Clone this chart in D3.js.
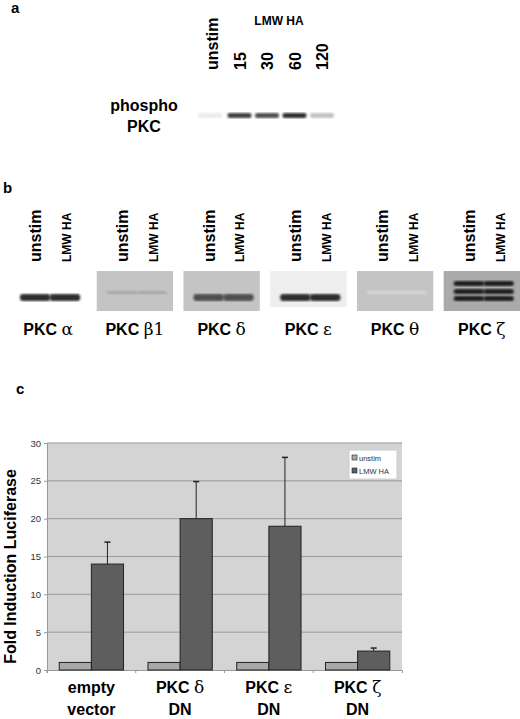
<!DOCTYPE html>
<html><head><meta charset="utf-8">
<script src="https://cdn.jsdelivr.net/npm/d3@7"></script>
<style>body{margin:0;background:#fff}text{font-family:"Liberation Sans",Arial,sans-serif}</style>
</head><body>
<script>
// panel c data
const groups = ["empty|vector", "PKC δ|DN", "PKC ε|DN", "PKC ζ|DN"];
const unstim = [1, 1, 1, 1];
const lmw = [14, 20, 19, 2.5];
const lmwErr = [2.9, 4.9, 9.1, 0.4];
const yTicks = [0, 5, 10, 15, 20, 25, 30];
// panel a
const timeLanes = ["unstim", "15", "30", "60", "120"];
const phosphoBand = [0.15, 0.8, 0.75, 0.85, 0.35];
// panel b
const isoforms = ["α", "β1", "δ", "ε", "θ", "ζ"];
const isoBand = [0.85, 0.45, 0.75, 0.85, 0.25, 0.9];

const svg = d3.select("body").append("svg").attr("width", 520).attr("height", 719);
const defs = svg.append("defs");
defs.append("filter").attr("id", "blur").append("feGaussianBlur").attr("stdDeviation", 1.3);

const greek = (sel, pre, g, size) => {
  sel.append("tspan").text(pre);
  sel.append("tspan").attr("font-family", "DejaVu Serif, Liberation Serif, serif").attr("font-weight", "normal").attr("font-size", size + 1).text(g);
};

// panel letters
[["a", 11, 13], ["b", 3, 193], ["c", 16, 394]].forEach(([t, x, y]) =>
  svg.append("text").attr("x", x).attr("y", y).attr("font-weight", "bold").attr("font-size", 15).text(t));

// ---- panel a
const xa = d3.scalePoint().domain(timeLanes).range([212, 322]);
svg.append("text").attr("x", 279).attr("y", 25).attr("text-anchor", "middle")
  .attr("font-weight", "bold").attr("font-size", 12).text("LMW HA");
timeLanes.forEach(l => {
  svg.append("text").attr("transform", `translate(${xa(l) + 6},70) rotate(-90)`)
    .attr("font-weight", "bold").attr("font-size", 16).text(l);
});
svg.append("text").attr("x", 144).attr("y", 111).attr("text-anchor", "middle").attr("font-weight", "bold").attr("font-size", 16).text("phospho");
svg.append("text").attr("x", 144).attr("y", 132).attr("text-anchor", "middle").attr("font-weight", "bold").attr("font-size", 16).text("PKC");
svg.append("g").attr("filter", "url(#blur)").selectAll("rect").data(timeLanes).join("rect")
  .attr("x", d => xa(d) - 12 + (d === "unstim" ? -2 : 0)).attr("y", 113).attr("width", 24).attr("height", 5).attr("rx", 2)
  .attr("fill", (d, i) => d3.interpolateGreys(phosphoBand[i]));

// ---- panel b
const xb = d3.scaleBand().domain(isoforms).range([10, 520]).paddingInner(0.12);
isoforms.forEach((iso, i) => {
  const x0 = xb(iso), w = xb.bandwidth();
  const g = svg.append("g");
  if (iso !== "α") g.append("rect").attr("x", x0).attr("y", 271).attr("width", w).attr("height", i === 3 ? 36 : 40)
    .attr("fill", i === 3 ? "#eee" : (i === 5 ? "#aaa" : "#c4c4c4"));
  [0, 1].forEach(j => {
    const cx = x0 + w * (j === 0 ? 0.33 : 0.72);
    g.append("text").attr("transform", `translate(${cx + 6},262) rotate(-90)`)
      .attr("font-weight", "bold").attr("font-size", j === 0 ? 16 : 12).text(j === 0 ? "unstim" : "LMW HA");
    const thin = iso === "β1" || iso === "θ";
    const bands = iso === "ζ" ? [284, 292, 299] : [thin ? 294 : 297];
    bands.forEach(by => g.append("rect").attr("filter", "url(#blur)")
      .attr("x", cx - w * 0.2).attr("y", by - 3).attr("width", w * 0.4).attr("height", thin ? 3 : (iso === "ζ" ? 5 : 7)).attr("rx", 3)
      .attr("fill", d3.interpolateGreys(isoBand[i])));
  });
  svg.append("text").attr("x", x0 + w / 2).attr("y", 335).attr("text-anchor", "middle")
    .attr("font-weight", "bold").attr("font-size", 16).call(greek, "PKC ", iso, 16);
});

// ---- panel c
const m = {left: 47, right: 402, top: 443, bottom: 670};
const x = d3.scaleBand().domain(groups).range([m.left, m.right]);
const xs = d3.scaleBand().domain(["u", "l"]).range([0, x.bandwidth()]).paddingOuter(0.38).paddingInner(0);
const y = d3.scaleLinear().domain([0, 30]).range([m.bottom, m.top]);
svg.append("rect").attr("x", m.left).attr("y", m.top).attr("width", m.right - m.left).attr("height", m.bottom - m.top).attr("fill", "#d4d4d4");
svg.append("g").selectAll("line").data(yTicks.slice(1)).join("line")
  .attr("x1", m.left).attr("x2", m.right).attr("y1", d => y(d)).attr("y2", d => y(d)).attr("stroke", "#999");
const ya = svg.append("g").attr("transform", `translate(${m.left},0)`).call(d3.axisLeft(y).tickValues(yTicks).tickSize(3));
ya.selectAll("text").attr("font-size", 9.5).attr("fill", "#333");
ya.selectAll("line,path").attr("stroke", "#999");
const xa2 = svg.append("g").attr("transform", `translate(0,${m.bottom})`).call(d3.axisBottom(x).tickSize(3).tickFormat(""));
xa2.selectAll("path,line").attr("stroke", "#999");
xa2.selectAll(".tick").attr("transform", d => `translate(${x(d)},0)`);

const bars = svg.append("g");
groups.forEach((gname, i) => {
  const gx = x(gname);
  bars.append("rect").attr("x", gx + xs("u")).attr("y", y(unstim[i])).attr("width", xs.bandwidth()).attr("height", y(0) - y(unstim[i]))
    .attr("fill", "#a8a8a8").attr("stroke", "#222");
  const cx = gx + xs("l") + xs.bandwidth() / 2;
  bars.append("line").attr("x1", cx).attr("x2", cx).attr("y1", y(lmw[i])).attr("y2", y(lmw[i] + lmwErr[i])).attr("stroke", "#222");
  bars.append("line").attr("x1", cx - 3).attr("x2", cx + 3).attr("y1", y(lmw[i] + lmwErr[i])).attr("y2", y(lmw[i] + lmwErr[i])).attr("stroke", "#222").attr("stroke-width", 1.5);
  bars.append("rect").attr("x", gx + xs("l")).attr("y", y(lmw[i])).attr("width", xs.bandwidth()).attr("height", y(0) - y(lmw[i]))
    .attr("fill", "#5e5e5e").attr("stroke", "#222");
  gname.split("|").forEach((t, k) => {
    const tx = svg.append("text").attr("x", gx + x.bandwidth() / 2).attr("y", 693 + k * 22)
      .attr("text-anchor", "middle").attr("font-weight", "bold").attr("font-size", 16);
    if (t.startsWith("PKC ")) tx.call(greek, "PKC ", t.slice(4), 16); else tx.text(t);
  });
});

svg.append("text").attr("transform", `translate(16,${(m.top + m.bottom) / 2 + 10}) rotate(-90)`).attr("text-anchor", "middle")
  .attr("font-weight", "bold").attr("font-size", 16).text("Fold Induction Luciferase");

const leg = svg.append("g").attr("transform", "translate(349,450)");
leg.append("rect").attr("width", 48).attr("height", 29).attr("fill", "#fff").attr("stroke", "#ccc");
[["unstim", "#a8a8a8"], ["LMW HA", "#5e5e5e"]].forEach(([t, c], k) => {
  leg.append("rect").attr("x", 3).attr("y", 5 + k * 13).attr("width", 5).attr("height", 5).attr("fill", c).attr("stroke", "#222").attr("stroke-width", 0.6);
  leg.append("text").attr("x", 10).attr("y", 10.5 + k * 13).attr("font-size", 7.5).attr("fill", "#333").text(t);
});
</script>
</body></html>
